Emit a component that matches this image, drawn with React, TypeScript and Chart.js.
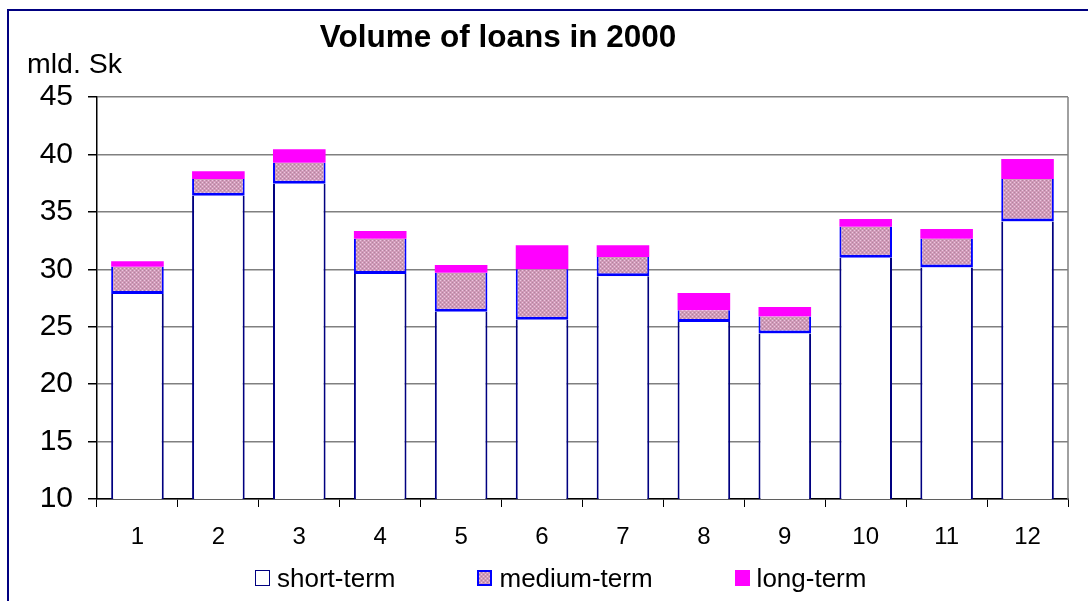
import React, { useEffect, useRef, useState } from "react";
import { Chart, registerables } from "chart.js";

Chart.register(...registerables);

const months = ["1", "2", "3", "4", "5", "6", "7", "8", "9", "10", "11", "12"];
const shortTerm = [27.85, 36.4, 37.45, 29.6, 26.3, 25.6, 29.4, 25.4, 24.4, 31.0, 30.15, 34.15];
const mediumTerm = [2.37, 1.46, 1.83, 3.06, 3.4, 4.4, 1.67, 1.03, 1.5, 2.7, 2.5, 3.71];
const longTerm = [0.48, 0.67, 1.17, 0.67, 0.67, 2.1, 1.03, 1.5, 0.82, 0.68, 0.86, 1.74];
const yTicks = [10, 15, 20, 25, 30, 35, 40, 45];
const seriesNames = ["short-term", "medium-term", "long-term"];

const FONT = "'Liberation Sans', Arial, sans-serif";

function makePatternCanvas(): HTMLCanvasElement {
  const pc = document.createElement("canvas");
  pc.width = 4;
  pc.height = 4;
  const g = pc.getContext("2d")!;
  g.fillStyle = "#d09ab8";
  g.fillRect(0, 0, 4, 4);
  g.fillStyle = "#ecc8e0";
  g.fillRect(0, 0, 1, 1);
  g.fillRect(2, 2, 1, 1);
  g.fillStyle = "#b0849e";
  g.fillRect(2, 0, 1, 1);
  g.fillRect(0, 2, 1, 1);
  return pc;
}

const plotBorder = {
  id: "plotBorder",
  afterDatasetsDraw(chart: any) {
    const { ctx, chartArea } = chart;
    ctx.save();
    ctx.strokeStyle = "#808080";
    ctx.lineWidth = 1.5;
    ctx.beginPath();
    ctx.moveTo(chartArea.right, chartArea.top);
    ctx.lineTo(chartArea.right, chartArea.bottom);
    ctx.stroke();
    ctx.restore();
  },
};

export default function App() {
  const canvasRef = useRef<HTMLCanvasElement | null>(null);
  const [patternUrl, setPatternUrl] = useState<string>("");

  useEffect(() => {
    const canvas = canvasRef.current;
    if (!canvas) return;
    const ctx = canvas.getContext("2d")!;
    const pc = makePatternCanvas();
    setPatternUrl(pc.toDataURL());
    const pattern = ctx.createPattern(pc, "repeat");

    const chart = new Chart(canvas, {
      type: "bar",
      data: {
        labels: months,
        datasets: [
          {
            label: seriesNames[0],
            data: shortTerm,
            backgroundColor: "#ffffff",
            borderColor: "#000080",
            borderWidth: { top: 0, left: 2, right: 2, bottom: 2 },
            borderSkipped: false,
          },
          {
            label: seriesNames[1],
            data: mediumTerm,
            backgroundColor: pattern as any,
            borderColor: "#0000ff",
            borderWidth: { top: 0, left: 2, right: 2, bottom: 3 },
            borderSkipped: false,
          },
          {
            label: seriesNames[2],
            data: longTerm,
            backgroundColor: "#ff00ff",
            borderWidth: 0,
          },
        ],
      },
      options: {
        animation: false,
        responsive: false,
        devicePixelRatio: 1,
        layout: { padding: { top: 97, right: 20, left: 0, bottom: 0 } },
        datasets: { bar: { barPercentage: 0.65, categoryPercentage: 1 } },
        plugins: {
          legend: { display: false },
          title: { display: false },
          tooltip: { enabled: false },
        },
        scales: {
          x: {
            stacked: true,
            offset: true,
            grid: {
              offset: true,
              drawOnChartArea: false,
              drawTicks: true,
              tickLength: 8,
              tickColor: "#000000",
            },
            border: { color: "#000000", width: 1.5 },
            ticks: {
              color: "#000000",
              font: { family: FONT, size: 24 },
              padding: 16,
              maxRotation: 0,
            },
            afterFit: (s: any) => {
              s.height = 102;
            },
          },
          y: {
            stacked: true,
            min: 10,
            max: 45,
            afterBuildTicks: (s: any) => {
              s.ticks = yTicks.map((v) => ({ value: v }));
            },
            grid: {
              color: "#808080",
              lineWidth: 1.5,
              tickColor: "#000000",
              tickLength: 9,
            },
            border: { color: "#000000", width: 1.5 },
            ticks: {
              color: "#000000",
              font: { family: FONT, size: 30 },
              padding: 15,
            },
            afterFit: (s: any) => {
              s.width = 97;
            },
          },
        },
      },
      plugins: [plotBorder],
    });
    return () => chart.destroy();
  }, []);

  const legendBox = (i: number): React.CSSProperties => {
    const base: React.CSSProperties = {
      width: 15,
      height: 16,
      boxSizing: "border-box",
      display: "inline-block",
      marginRight: 7,
    };
    if (i === 0) return { ...base, background: "#fff", border: "1.5px solid #000080" };
    if (i === 1)
      return {
        ...base,
        backgroundColor: "#d09ab8",
        backgroundImage: patternUrl ? `url(${patternUrl})` : undefined,
        border: "2px solid #0000ff",
      };
    return { ...base, background: "#ff00ff" };
  };

  return (
    <div
      style={{
        position: "fixed",
        left: 0,
        top: 0,
        width: 1088,
        height: 601,
        background: "#fff",
        overflow: "hidden",
        fontFamily: FONT,
      }}
    >
      <canvas ref={canvasRef} width={1088} height={601} style={{ display: "block", position: "absolute", left: 0, top: 0 }} />
      <div
        style={{
          position: "absolute",
          left: 7,
          top: 9,
          right: 0,
          bottom: 0,
          borderTop: "2px solid #000080",
          borderLeft: "2px solid #000080",
          pointerEvents: "none",
        }}
      />
      <div
        style={{
          position: "absolute",
          left: 498,
          top: 21,
          transform: "translateX(-50%)",
          fontWeight: "bold",
          fontSize: 31.5,
          lineHeight: 1,
          whiteSpace: "nowrap",
          color: "#000",
        }}
      >
        Volume of loans in 2000
      </div>
      <div
        style={{
          position: "absolute",
          left: 27,
          top: 49,
          fontSize: 28.5,
          lineHeight: 1,
          whiteSpace: "nowrap",
          color: "#000",
        }}
      >
        mld. Sk
      </div>
      <div
        style={{
          position: "absolute",
          left: 255,
          top: 565,
          display: "flex",
          alignItems: "center",
          fontSize: 26,
          lineHeight: 1,
          color: "#000",
          whiteSpace: "nowrap",
        }}
      >
        {seriesNames.map((n, i) => (
          <div key={n} style={{ display: "flex", alignItems: "center", marginRight: i < 2 ? 82 : 0 }}>
            <span style={legendBox(i)} />
            <span>{n}</span>
          </div>
        ))}
      </div>
    </div>
  );
}
